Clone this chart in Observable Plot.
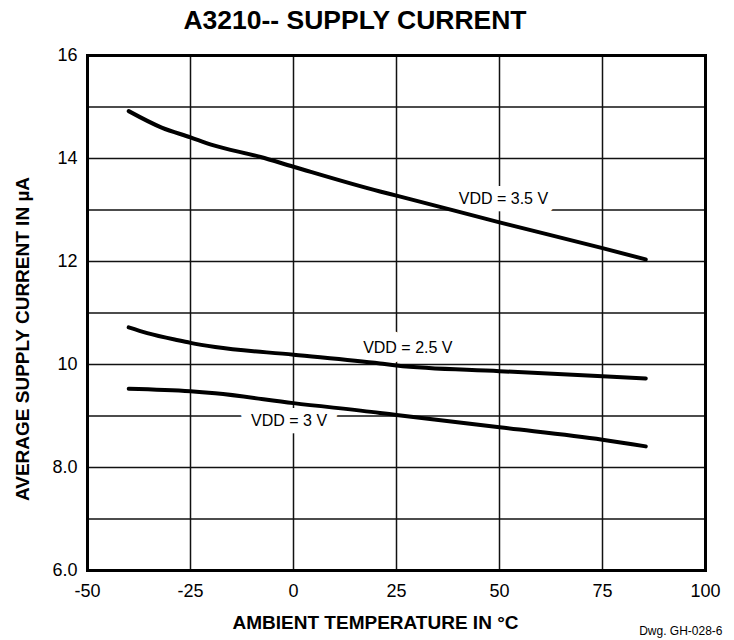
<!DOCTYPE html>
<html>
<head>
<meta charset="utf-8">
<script src="https://cdn.jsdelivr.net/npm/d3@7"></script>
<script src="https://cdn.jsdelivr.net/npm/@observablehq/plot@0.6"></script>
<style>
  body { margin: 0; background: #fff; font-family: "Liberation Sans", Arial, sans-serif; }
  #wrap { position: relative; width: 734px; height: 640px; }
  #title { position: absolute; top: 0; left: 355px; transform: translateX(-50%); white-space: nowrap;
           height: 40px; line-height: 40px; font-size: 26.5px; font-weight: bold; color: #000; }
  #chart { position: absolute; top: 40px; left: 0; }
</style>
</head>
<body>
<div id="wrap">
  <div id="title">A3210-- SUPPLY CURRENT</div>
  <div id="chart"></div>
</div>
<script>
// Temperatures (°C) and currents (µA)
const temp35 = [-40, -32, -25, -20, -8, 0, 21, 25, 50, 75, 85.5];
const curr35 = [14.92, 14.60, 14.41, 14.27, 14.03, 13.84, 13.36, 13.28, 12.76, 12.26, 12.04];

const temp25 = [-40, -35.5, -28, -25, -19, 0, 21, 25, 50, 75, 85.5];
const curr25 = [10.72, 10.61, 10.47, 10.42, 10.34, 10.19, 10.02, 9.98, 9.87, 9.77, 9.73];

const temp30 = [-40, -25, -19, 0, 21, 25, 50, 75, 85.5];
const curr30 = [9.53, 9.48, 9.44, 9.25, 9.06, 9.02, 8.78, 8.54, 8.41];

const seriesNames = ["3.5 V", "2.5 V", "3 V"];

// Curve labels (text, anchor temperature, current)
const labelTexts = ["VDD = 3.5 V", "VDD = 2.5 V", "VDD = 3 V"];
const labelTemps = [40.1, 16.9, -10.3];
const labelCurrs = [13.22, 10.32, 8.90];

// Ticks and grid
const xTicks = [-50, -25, 0, 25, 50, 75, 100];
const yTicks = [6, 8, 10, 12, 14, 16];
const yGrid = [6, 7, 8, 9, 10, 11, 12, 13, 14, 15, 16];

const xTitle = "AMBIENT TEMPERATURE IN °C";
const yTitle = "AVERAGE SUPPLY CURRENT IN µA";
const dwgText = "Dwg. GH-028-6";

const data = [
  ...temp35.map((t, i) => ({series: seriesNames[0], t, c: curr35[i]})),
  ...temp25.map((t, i) => ({series: seriesNames[1], t, c: curr25[i]})),
  ...temp30.map((t, i) => ({series: seriesNames[2], t, c: curr30[i]}))
];
const labels = labelTexts.map((s, i) => ({s, t: labelTemps[i], c: labelCurrs[i]}));

const chart = Plot.plot({
  width: 734,
  height: 600,
  marginLeft: 87,
  marginRight: 29,
  marginTop: 15,
  marginBottom: 70,
  style: {fontFamily: "'Liberation Sans', Arial, sans-serif", color: "#000", background: "#fff"},
  x: {domain: [-50, 100]},
  y: {domain: [6, 16]},
  marks: [
    Plot.gridX(xTicks, {stroke: "#111", strokeOpacity: 1, strokeWidth: 1.5}),
    Plot.gridY(yGrid, {stroke: "#111", strokeOpacity: 1, strokeWidth: 1.5}),
    Plot.text(labels, {x: "t", y: "c", text: "s", textAnchor: "start", fontSize: 16,
      fill: "#000", stroke: "#fff", strokeWidth: 20, ariaLabel: "vdd-labels"}),
    Plot.frame({stroke: "#000", strokeWidth: 3}),
    Plot.axisX(xTicks, {tickSize: 0, tickPadding: 14, fontSize: 18, label: null,
      tickFormat: d => String(d)}),
    Plot.axisY(yTicks, {tickSize: 0, tickPadding: 10, fontSize: 18, label: null,
      tickFormat: d => d >= 10 ? String(d) : d.toFixed(1)}),
    Plot.line(data, {x: "t", y: "c", z: "series", stroke: "#000", strokeWidth: 4, curve: "monotone-x"}),
    Plot.text([yTitle], {frameAnchor: "left", textAnchor: "middle", lineAnchor: "middle", rotate: -90,
      dx: -65, dy: 26, fontSize: 19, fontWeight: "bold"}),
    Plot.text([xTitle], {frameAnchor: "bottom", textAnchor: "middle", lineAnchor: "middle",
      dx: -21, dy: 52, fontSize: 19, fontWeight: "bold"}),
    Plot.text([dwgText], {frameAnchor: "bottom-right", textAnchor: "end", lineAnchor: "middle",
      dx: 17, dy: 61, fontSize: 12})
  ]
});

// Render the "DD" of VDD in smaller capitals
d3.select(chart).selectAll('g[aria-label="vdd-labels"] text').each(function() {
  const s = this.textContent;
  const rest = s.slice(3);
  const t = d3.select(this);
  t.text(null);
  t.append("tspan").text("V");
  t.append("tspan").attr("font-size", 12.5).text("DD");
  t.append("tspan").text(rest);
});

document.getElementById("chart").appendChild(chart);
</script>
</body>
</html>
